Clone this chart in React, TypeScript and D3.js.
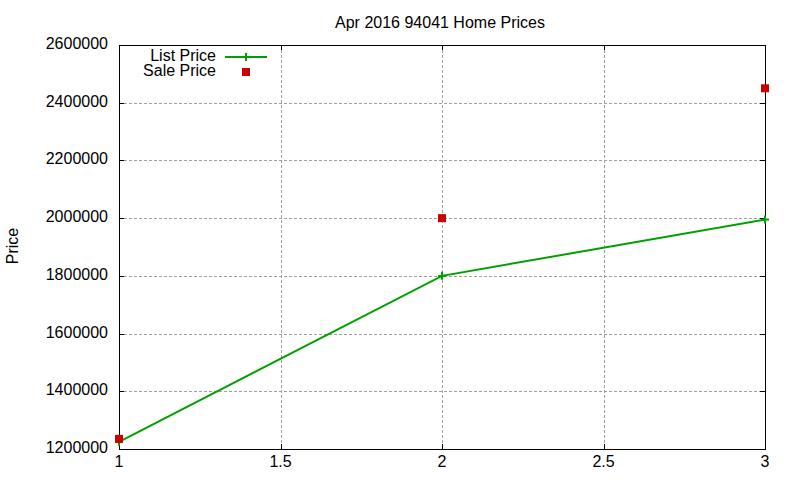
import * as React from 'react';
import * as d3 from 'd3';

const xValues = [1, 2, 3];
const listPrice = [1225000, 1800000, 1995000];
const salePrice = [1235000, 2000000, 2450000];
const xTicks = [1, 1.5, 2, 2.5, 3];
const yTicks = [1200000, 1400000, 1600000, 1800000, 2000000, 2200000, 2400000, 2600000];

const W = 800;
const H = 480;
const M = { left: 119, right: 765, top: 45, bottom: 449 };

const GREEN = '#00a000';
const RED = '#cc0000';
const FONT = '"Liberation Sans", Arial, sans-serif';

export default function App() {
  const x = d3.scaleLinear().domain([1, 3]).range([M.left, M.right]);
  const y = d3.scaleLinear().domain([1200000, 2600000]).range([M.bottom, M.top]);

  const line = d3
    .line<number>()
    .x((_d, i) => x(xValues[i]))
    .y((d) => y(d));

  const tick = 5;

  return (
    <svg
      width={W}
      height={H}
      viewBox={`0 0 ${W} ${H}`}
      style={{ position: 'absolute', left: 0, top: 0, background: '#fff', fontFamily: FONT }}
    >
      {/* grid */}
      <g stroke="#a0a0a0" strokeWidth={1} strokeDasharray="3,2">
        {yTicks
          .filter((t) => t !== 1200000 && t !== 2600000)
          .map((t) => (
            <line key={`gy${t}`} x1={M.left} x2={M.right} y1={Math.round(y(t)) + 0.5} y2={Math.round(y(t)) + 0.5} />
          ))}
        {xTicks
          .filter((t) => t !== 1 && t !== 3)
          .map((t) => (
            <line key={`gx${t}`} x1={Math.round(x(t)) + 0.5} x2={Math.round(x(t)) + 0.5} y1={M.top} y2={M.bottom} />
          ))}
      </g>

      {/* ticks (mirrored) */}
      <g stroke="#000" strokeWidth={1}>
        {yTicks.map((t) => {
          const yy = Math.round(y(t)) + 0.5;
          return (
            <g key={`ty${t}`}>
              <line x1={M.left} x2={M.left + tick} y1={yy} y2={yy} />
              <line x1={M.right - tick} x2={M.right} y1={yy} y2={yy} />
            </g>
          );
        })}
        {xTicks.map((t) => {
          const xx = Math.round(x(t)) + 0.5;
          return (
            <g key={`tx${t}`}>
              <line x1={xx} x2={xx} y1={M.bottom} y2={M.bottom - tick} />
              <line x1={xx} x2={xx} y1={M.top} y2={M.top + tick} />
            </g>
          );
        })}
      </g>

      {/* border */}
      <rect
        x={M.left + 0.5}
        y={M.top + 0.5}
        width={M.right - M.left}
        height={M.bottom - M.top}
        fill="none"
        stroke="#000"
        strokeWidth={1}
      />

      {/* tick labels */}
      <g fontSize={16} fill="#000">
        {yTicks.map((t) => (
          <text key={`ly${t}`} x={108} y={y(t) + 4} textAnchor="end">
            {t}
          </text>
        ))}
        {xTicks.map((t) => (
          <text key={`lx${t}`} x={x(t)} y={467} textAnchor="middle">
            {t}
          </text>
        ))}
      </g>

      {/* title & axis label */}
      <text x={440} y={28} fontSize={16} textAnchor="middle" fill="#000">
        Apr 2016 94041 Home Prices
      </text>
      <text transform="translate(18,246) rotate(-90)" fontSize={16} textAnchor="middle" fill="#000">
        Price
      </text>

      {/* List Price line + markers */}
      <path d={line(listPrice) || ''} fill="none" stroke={GREEN} strokeWidth={2} />
      <g stroke={GREEN} strokeWidth={2}>
        {listPrice.map((v, i) => (
          <g key={`lp${i}`}>
            <line x1={x(xValues[i]) - 4} x2={x(xValues[i]) + 4} y1={y(v)} y2={y(v)} />
            <line x1={x(xValues[i])} x2={x(xValues[i])} y1={y(v) - 4} y2={y(v) + 4} />
          </g>
        ))}
      </g>

      {/* Sale Price markers */}
      {salePrice.map((v, i) => (
        <rect key={`sp${i}`} x={x(xValues[i]) - 4} y={y(v) - 4} width={8} height={8} fill={RED} />
      ))}

      {/* legend */}
      <g fontSize={16} fill="#000">
        <text x={216} y={61} textAnchor="end">List Price</text>
        <text x={216} y={76} textAnchor="end">Sale Price</text>
      </g>
      <g stroke={GREEN} strokeWidth={2}>
        <line x1={225} x2={267} y1={57} y2={57} />
        <line x1={246} x2={246} y1={53} y2={61} />
      </g>
      <rect x={242} y={68} width={8} height={8} fill={RED} />
    </svg>
  );
}
